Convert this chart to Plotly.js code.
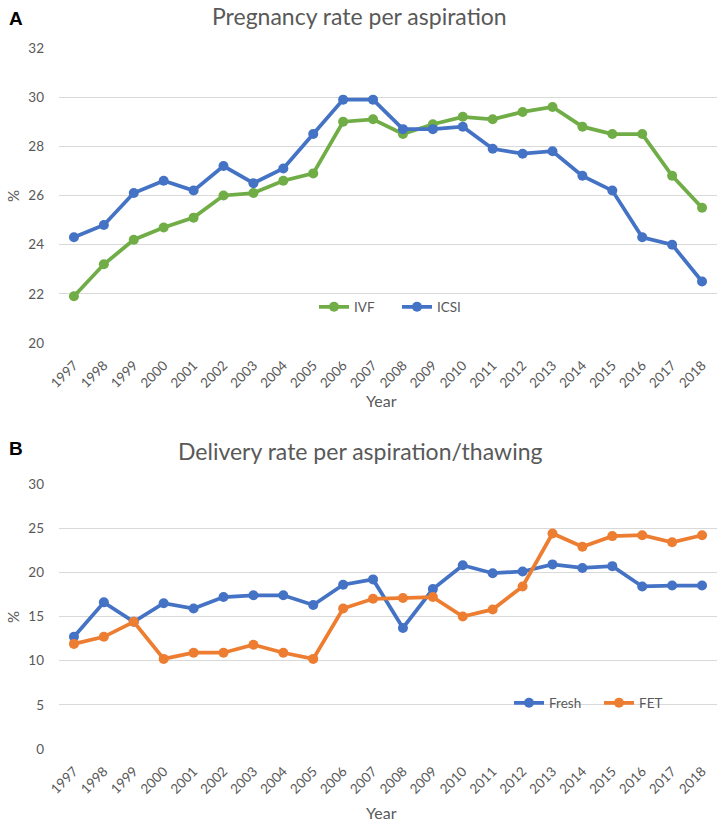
<!DOCTYPE html>
<html>
<head>
<meta charset="utf-8">
<script src="https://cdn.plot.ly/plotly-3.0.1.min.js"></script>
<style>html,body{margin:0;padding:0;background:#fff;}#chart{width:720px;height:823px;}</style>
</head>
<body>
<div id="chart"></div>
<script>
const years = ['1997','1998','1999','2000','2001','2002','2003','2004','2005','2006','2007','2008','2009','2010','2011','2012','2013','2014','2015','2016','2017','2018'];
const ivf  = [21.9,23.2,24.2,24.7,25.1,26.0,26.1,26.6,26.9,29.0,29.1,28.5,28.9,29.2,29.1,29.4,29.6,28.8,28.5,28.5,26.8,25.5];
const icsi = [24.3,24.8,26.1,26.6,26.2,27.2,26.5,27.1,28.5,29.9,29.9,28.7,28.7,28.8,27.9,27.7,27.8,26.8,26.2,24.3,24.0,22.5];
const fresh = [12.7,16.6,14.4,16.5,15.9,17.2,17.4,17.4,16.3,18.6,19.2,13.7,18.1,20.8,19.9,20.1,20.9,20.5,20.7,18.4,18.5,18.5];
const fet   = [11.9,12.7,14.4,10.2,10.9,10.9,11.8,10.9,10.2,15.9,17.0,17.1,17.2,15.0,15.8,18.4,24.4,22.9,24.1,24.2,23.4,24.2];

const titleA = 'Pregnancy rate per aspiration';
const titleB = 'Delivery rate per aspiration/thawing';

const FONT = 'Lato, "Open Sans", sans-serif';
const GRAY = '#595959';
const H = 823, W = 720;
const py = px => 1 - px / H;
const pxx = px => px / W;

function tr(name, y, color, xa, ya, lg) {
  return {
    x: years, y: y, name: name, type: 'scatter', mode: 'lines+markers',
    xaxis: xa, yaxis: ya, legend: lg,
    line: {color: color, width: 3.75},
    marker: {color: color, size: 10}
  };
}

const data = [
  tr('IVF', ivf, '#70AD47', 'x', 'y', 'legend'),
  tr('ICSI', icsi, '#4472C4', 'x', 'y', 'legend2'),
  tr('Fresh', fresh, '#4472C4', 'x2', 'y2', 'legend3'),
  tr('FET', fet, '#ED7D31', 'x2', 'y2', 'legend4')
];

const xbase = {
  type: 'category', domain: [pxx(59), pxx(717)], range: [-0.5, 21.5],
  tickangle: -45, showgrid: false, zeroline: false, showline: false, ticks: '',
  tickfont: {family: FONT, size: 13.5, color: GRAY}, ticklabelstandoff: 11, fixedrange: true
};
const ybase = {
  showgrid: true, gridcolor: '#d9d9d9', gridwidth: 1, zeroline: false, showline: false, ticks: '',
  tickfont: {family: FONT, size: 13.5, color: GRAY}, ticklabelstandoff: 14
};

function ann(text, x, y, size, extra) {
  return Object.assign({text: text, x: pxx(x), y: py(y), xref: 'paper', yref: 'paper', showarrow: false,
    xanchor: 'center', yanchor: 'middle', font: {family: FONT, size: size, color: GRAY}}, extra || {});
}

const legFont = {family: FONT, size: 13.5, color: GRAY};
function leg(markerX, y) {
  return {orientation: 'h', x: pxx(markerX - 21), xanchor: 'left', y: py(y), yanchor: 'middle',
          bgcolor: 'rgba(0,0,0,0)', font: legFont};
}

const layout = {
  width: W, height: H,
  margin: {l: 0, r: 0, t: 0, b: 0},
  paper_bgcolor: '#fff', plot_bgcolor: '#fff',
  font: {family: FONT, color: GRAY},
  showlegend: true,
  xaxis: Object.assign({}, xbase, {anchor: 'y'}),
  xaxis2: Object.assign({}, xbase, {anchor: 'y2'}),
  yaxis: Object.assign({}, ybase, {domain: [py(343), py(48)], range: [20, 32], dtick: 2, anchor: 'x'}),
  yaxis2: Object.assign({}, ybase, {domain: [py(749), py(484)], range: [0, 30], dtick: 5, anchor: 'x2'}),
  legend: leg(335, 307),
  legend2: leg(418, 307),
  legend3: leg(530, 703),
  legend4: leg(620, 703),
  annotations: [
    ann('<b>A</b>', 16, 19, 19, {font: {family: 'Liberation Sans, Arial, sans-serif', size: 19, color: '#000'}}),
    ann('<b>B</b>', 16, 448, 19, {font: {family: 'Liberation Sans, Arial, sans-serif', size: 19, color: '#000'}}),
    ann(titleA, 359, 16, 23),
    ann(titleB, 360, 451, 23),
    ann('Year', 381, 400, 16),
    ann('Year', 381, 812, 16),
    ann('%', 13, 196, 15, {textangle: -90}),
    ann('%', 13, 617, 15, {textangle: -90})
  ]
};

Plotly.newPlot('chart', data, layout, {displayModeBar: false, staticPlot: true});
</script>
</body>
</html>
